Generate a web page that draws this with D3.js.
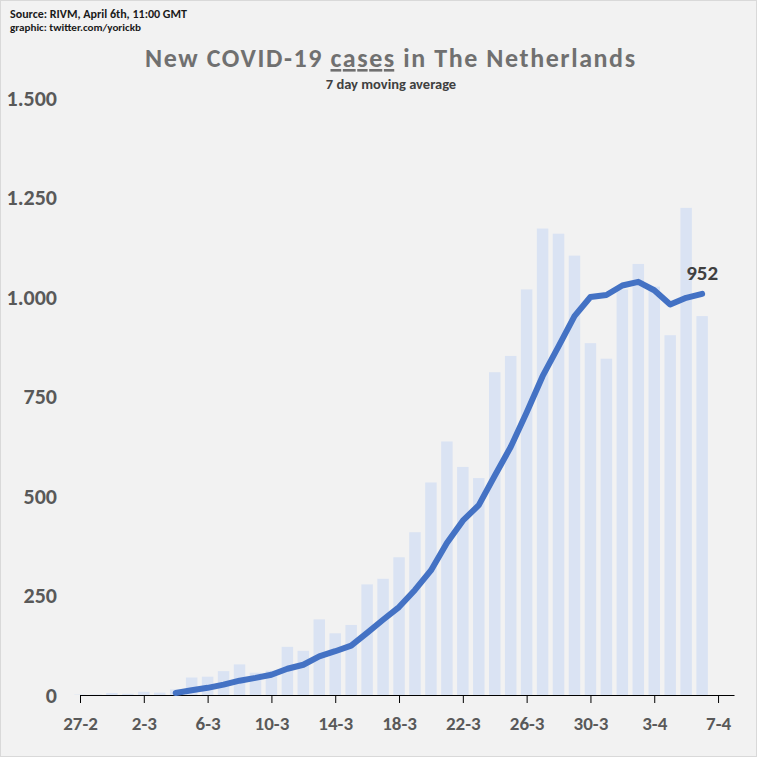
<!DOCTYPE html>
<html>
<head>
<meta charset="utf-8">
<script src="https://cdn.jsdelivr.net/npm/d3@7"></script>
<style>
  html, body { margin: 0; padding: 0; background: #f2f2f2; }
  svg { display: block; }
  text { font-family: Carlito, Calibri, Lato, "Open Sans", sans-serif; }
</style>
</head>
<body>
<svg id="chart" width="757" height="757"></svg>
<script>
// ---- data ----
const days = [
  "2020-02-27","2020-02-28","2020-02-29","2020-03-01","2020-03-02","2020-03-03","2020-03-04",
  "2020-03-05","2020-03-06","2020-03-07","2020-03-08","2020-03-09","2020-03-10","2020-03-11",
  "2020-03-12","2020-03-13","2020-03-14","2020-03-15","2020-03-16","2020-03-17","2020-03-18",
  "2020-03-19","2020-03-20","2020-03-21","2020-03-22","2020-03-23","2020-03-24","2020-03-25",
  "2020-03-26","2020-03-27","2020-03-28","2020-03-29","2020-03-30","2020-03-31","2020-04-01",
  "2020-04-02","2020-04-03","2020-04-04","2020-04-05","2020-04-06"
];
const newCases = [
  1, 1, 5, 3, 8, 6, 14,
  44, 46, 60, 77, 56, 61, 121,
  111, 190, 155, 176, 278, 292, 346,
  409, 534, 637, 573, 545, 811, 852,
  1019, 1172, 1159, 1104, 884, 845, 1019,
  1083, 1026, 904, 1224, 952
];
const movingAvg = [
  null, null, null, null, null, null, 5,
  12, 18, 26, 36, 43, 51, 66,
  76, 97, 110, 124, 156, 189, 221,
  264, 313, 382, 438, 477, 551, 623,
  710, 801, 876, 952, 1000, 1005, 1029,
  1038, 1017, 981, 998, 1008
];
const yTicks = [0, 250, 500, 750, 1000, 1250, 1500];
const xTickDays = ["2020-02-27","2020-03-02","2020-03-06","2020-03-10","2020-03-14","2020-03-18",
                   "2020-03-22","2020-03-26","2020-03-30","2020-04-03","2020-04-07"];
const xTickLabels = ["27-2","2-3","6-3","10-3","14-3","18-3","22-3","26-3","30-3","3-4","7-4"];
const xDomain = ["2020-02-27", "2020-04-08"];
const lastLabel = "952";
const titleParts = ["New COVID-19 ", "cases", " in The Netherlands"];
const subtitle = "7 day moving average";
const sourceLines = ["Source: RIVM, April 6th, 11:00 GMT", "graphic: twitter.com/yorickb"];

// ---- drawing ----
const parse = d3.timeParse("%Y-%m-%d");
const W = 757, H = 757;
const svg = d3.select("#chart");

svg.append("rect").attr("x", 0.5).attr("y", 0.5).attr("width", W - 1).attr("height", H - 1)
  .attr("fill", "#f2f2f2").attr("stroke", "#d9d9d9");

const x = d3.scaleTime().domain(xDomain.map(parse)).range([80, 734]);
const y = d3.scaleLinear().domain([0, 1500]).range([695, 98]);
const dayW = x(parse("2020-02-28")) - x(parse("2020-02-27"));
const barW = dayW * 0.72;

const nl = d3.formatLocale({ decimal: ",", thousands: ".", grouping: [3], currency: ["", ""] });
const fmt = nl.format(",");

// bars
const data = days.map((d, i) => ({ date: parse(d), v: newCases[i], a: movingAvg[i] }));
svg.append("g").selectAll("rect").data(data).join("rect")
  .attr("x", d => x(d.date) - barW / 2)
  .attr("width", barW)
  .attr("y", d => y(d.v))
  .attr("height", d => y(0) - y(d.v))
  .attr("fill", "#dae3f3");

// y axis (labels only)
const yAxis = svg.append("g").attr("transform", "translate(60,0)")
  .call(d3.axisLeft(y).tickValues(yTicks).tickSize(0).tickPadding(3).tickFormat(fmt));
yAxis.select(".domain").remove();
yAxis.selectAll("text")
  .attr("font-family", "Carlito, Calibri, Lato, sans-serif")
  .attr("font-size", 22).attr("font-weight", "bold").attr("fill", "#595959");

// x axis
const xAxis = svg.append("g").attr("transform", "translate(0,695)")
  .call(d3.axisBottom(x).tickValues(xTickDays.map(parse)).tickSize(8).tickSizeOuter(0)
    .tickPadding(14).tickFormat((d, i) => xTickLabels[i]));
xAxis.select(".domain").attr("stroke", "#000").attr("stroke-width", 1.2);
xAxis.selectAll(".tick line").attr("stroke", "#000");
xAxis.selectAll("text")
  .attr("font-family", "Carlito, Calibri, Lato, sans-serif")
  .attr("font-size", 19).attr("font-weight", "bold").attr("fill", "#595959");

// moving average line
const line = d3.line().defined(d => d.a != null).x(d => x(d.date)).y(d => y(d.a));
svg.append("path").datum(data).attr("d", line)
  .attr("fill", "none").attr("stroke", "#4472c4").attr("stroke-width", 6)
  .attr("stroke-linejoin", "round").attr("stroke-linecap", "round");

// last value label
const last = data[data.length - 1];
svg.append("text").attr("x", x(last.date)).attr("y", 280)
  .attr("text-anchor", "middle").attr("font-size", 21).attr("font-weight", "bold")
  .attr("fill", "#404040").text(lastLabel);

// title
const t = svg.append("text").attr("x", 390).attr("y", 67).attr("text-anchor", "middle")
  .attr("font-size", 26).attr("font-weight", "bold").attr("fill", "#707070")
  .attr("textLength", 490).attr("lengthAdjust", "spacing");
titleParts.forEach((p, i) => {
  const ts = t.append("tspan").text(p);
  if (i === 1) ts.attr("text-decoration", "underline");
});

svg.append("text").attr("x", 391).attr("y", 89).attr("text-anchor", "middle")
  .attr("font-size", 14.5).attr("font-weight", "bold").attr("fill", "#404040").text(subtitle);

// source
svg.append("text").attr("x", 10).attr("y", 18).attr("font-size", 11.5).attr("font-weight", "bold")
  .attr("fill", "#1a1a1a").attr("textLength", 177).attr("lengthAdjust", "spacingAndGlyphs")
  .text(sourceLines[0]);
svg.append("text").attr("x", 10).attr("y", 31).attr("font-size", 10.5).attr("font-weight", "bold")
  .attr("fill", "#1a1a1a").attr("textLength", 131).attr("lengthAdjust", "spacingAndGlyphs")
  .text(sourceLines[1]);
</script>
</body>
</html>
